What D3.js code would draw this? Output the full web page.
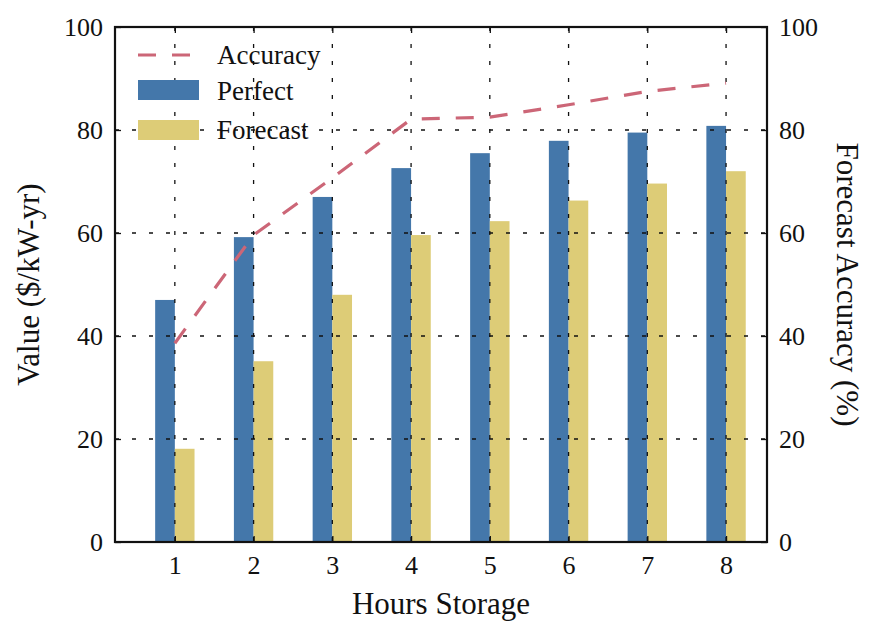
<!DOCTYPE html>
<html>
<head>
<meta charset="utf-8">
<script src="https://cdn.jsdelivr.net/npm/d3@7"></script>
<style>
  html, body { margin: 0; padding: 0; background: #fff; }
  svg { display: block; }
  text { font-family: "Liberation Serif", "Times New Roman", serif; fill: #111; }
</style>
</head>
<body>
<svg id="chart" width="869" height="622"></svg>
<script>
// Storage duration categories (hours)
const hours = [1, 2, 3, 4, 5, 6, 7, 8];
// Value with perfect foresight ($/kW-yr)
const perfect = [47.0, 59.2, 67.0, 72.6, 75.5, 77.9, 79.5, 80.8];
// Value with forecast ($/kW-yr)
const forecast = [18.1, 35.1, 48.0, 59.6, 62.3, 66.3, 69.6, 72.0];
// Forecast accuracy (%)
const accuracy = [38.6, 59.6, 70.7, 82.1, 82.5, 84.9, 87.5, 89.1];
const yTicks = [0, 20, 40, 60, 80, 100];

const colors = { perfect: "#4477aa", forecast: "#ddcc77", accuracy: "#cc6677" };

const svg = d3.select("#chart");
const plot = { left: 115, right: 767, top: 27, bottom: 542 };

const x = d3.scaleLinear().domain([0.24, 8.52]).range([plot.left, plot.right]);
const y = d3.scaleLinear().domain([0, 100]).range([plot.bottom, plot.top]);
const y2 = d3.scaleLinear().domain([0, 100]).range([plot.bottom, plot.top]);
const barW = x(0.25) - x(0);

// Bars
svg.append("g").selectAll("rect").data(hours).join("rect")
  .attr("x", (d) => x(d) - barW)
  .attr("y", (d, i) => y(perfect[i]))
  .attr("width", barW)
  .attr("height", (d, i) => y(0) - y(perfect[i]))
  .attr("fill", colors.perfect);

svg.append("g").selectAll("rect").data(hours).join("rect")
  .attr("x", (d) => x(d))
  .attr("y", (d, i) => y(forecast[i]))
  .attr("width", barW)
  .attr("height", (d, i) => y(0) - y(forecast[i]))
  .attr("fill", colors.forecast);

// Dotted grid
const grid = svg.append("g").attr("stroke", "#111").attr("stroke-width", 1.3)
  .attr("stroke-dasharray", "4,13");
grid.selectAll("line.v").data(hours).join("line").attr("class", "v")
  .attr("x1", (d) => x(d)).attr("x2", (d) => x(d))
  .attr("y1", plot.top).attr("y2", plot.bottom);
grid.selectAll("line.h").data(yTicks.slice(1, -1)).join("line").attr("class", "h")
  .attr("y1", (d) => y(d)).attr("y2", (d) => y(d))
  .attr("x1", plot.left).attr("x2", plot.right);

// Accuracy line
const line = d3.line().x((d, i) => x(hours[i])).y((d) => y2(d));
svg.append("path").datum(accuracy)
  .attr("d", line)
  .attr("fill", "none")
  .attr("stroke", colors.accuracy)
  .attr("stroke-width", 3.2)
  .attr("stroke-dasharray", "18,16");

// Axes
const fs = 26;
const axL = svg.append("g").attr("transform", `translate(${plot.left},0)`)
  .call(d3.axisLeft(y).tickValues(yTicks).tickSizeInner(-6).tickSizeOuter(0).tickPadding(12));
const axR = svg.append("g").attr("transform", `translate(${plot.right},0)`)
  .call(d3.axisRight(y2).tickValues(yTicks).tickSizeInner(-6).tickSizeOuter(0).tickPadding(12));
const axB = svg.append("g").attr("transform", `translate(0,${plot.bottom})`)
  .call(d3.axisBottom(x).tickValues(hours).tickFormat(d3.format("d")).tickSizeInner(-6).tickSizeOuter(0).tickPadding(14));
const axT = svg.append("g").attr("transform", `translate(0,${plot.top})`)
  .call(d3.axisTop(x).tickValues(hours).tickFormat("").tickSizeInner(-6).tickSizeOuter(0));

[axL, axR, axB, axT].forEach((g) => {
  g.select(".domain").remove();
  g.selectAll(".tick line").attr("stroke", "#111").attr("stroke-width", 1.3);
  g.selectAll(".tick text")
    .style("font-family", '"Liberation Serif", serif')
    .style("font-size", fs + "px")
    .attr("fill", "#111");
});

// Frame
svg.append("rect")
  .attr("x", plot.left).attr("y", plot.top)
  .attr("width", plot.right - plot.left).attr("height", plot.bottom - plot.top)
  .attr("fill", "none").attr("stroke", "#111").attr("stroke-width", 2.2);

// Axis titles
svg.append("text")
  .attr("x", (plot.left + plot.right) / 2).attr("y", 614)
  .attr("text-anchor", "middle").style("font-size", "31px")
  .text("Hours Storage");
svg.append("text")
  .attr("transform", `translate(39,${(plot.top + plot.bottom) / 2}) rotate(-90)`)
  .attr("text-anchor", "middle").style("font-size", "31px")
  .text("Value ($/kW-yr)");
svg.append("text")
  .attr("transform", `translate(837,${(plot.top + plot.bottom) / 2}) rotate(90)`)
  .attr("text-anchor", "middle").style("font-size", "31px")
  .text("Forecast Accuracy (%)");

// Legend
const lg = svg.append("g");
lg.append("line").attr("x1", 138).attr("x2", 196).attr("y1", 55).attr("y2", 55)
  .attr("stroke", colors.accuracy).attr("stroke-width", 3.2).attr("stroke-dasharray", "18,16");
lg.append("rect").attr("x", 138).attr("y", 80).attr("width", 61).attr("height", 20).attr("fill", colors.perfect);
lg.append("rect").attr("x", 138).attr("y", 120).attr("width", 61).attr("height", 20).attr("fill", colors.forecast);
const legendItems = [["Accuracy", 55], ["Perfect", 91], ["Forecast", 130]];
lg.selectAll("text").data(legendItems).join("text")
  .attr("x", 217).attr("y", (d) => d[1]).attr("dy", "0.35em")
  .style("font-size", "27px")
  .text((d) => d[0]);
</script>
</body>
</html>
